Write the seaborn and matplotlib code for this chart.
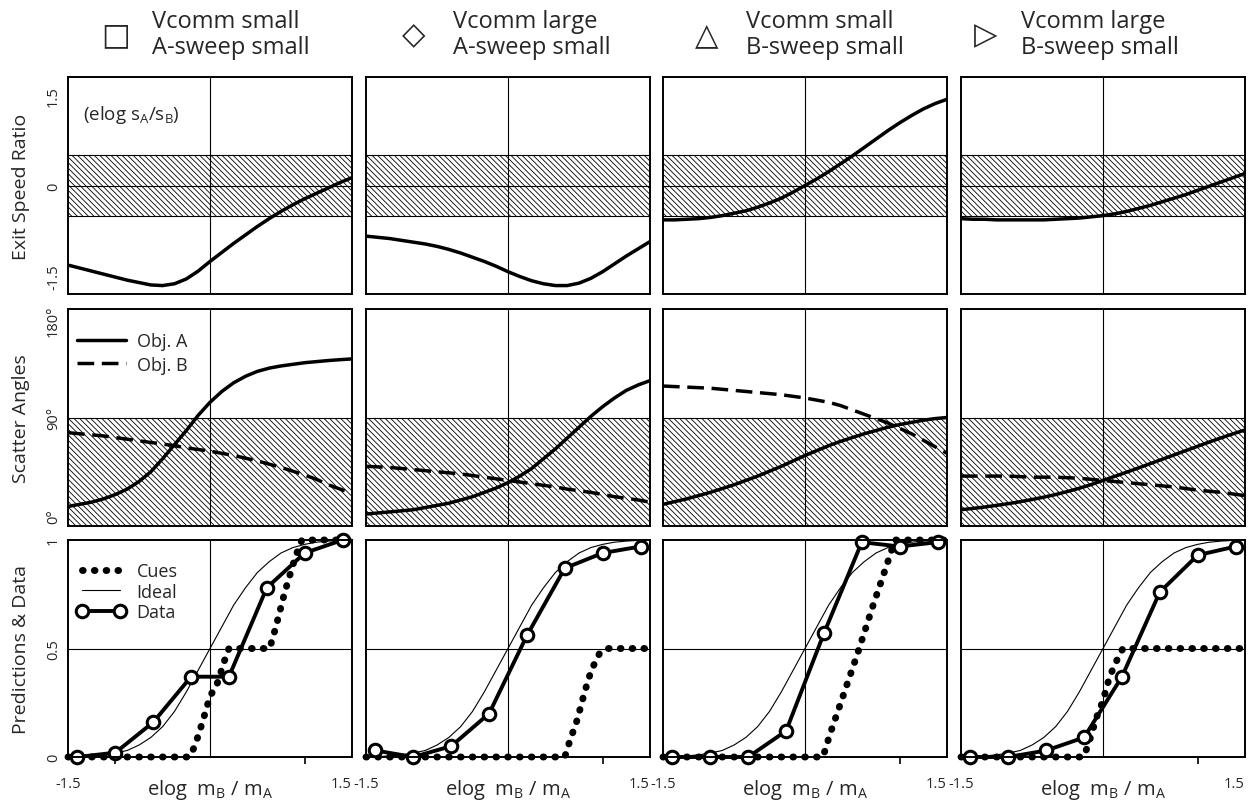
import seaborn as sns
import pandas as pd
import matplotlib.pyplot as plt


# x positions of the read-off curve values (elog mB/mA), step 0.125
x_curve = [-1.5, -1.375, -1.25, -1.125, -1.0, -0.875, -0.75, -0.625, -0.5, -0.375, -0.25, -0.125,
           0.0, 0.125, 0.25, 0.375, 0.5, 0.625, 0.75, 0.875, 1.0, 1.125, 1.25, 1.375, 1.5]

# exit speed ratio (elog sA/sB), one list per column
speed_c1 = [-1.32, -1.37, -1.42, -1.47, -1.52, -1.57, -1.61, -1.65, -1.66, -1.63, -1.55, -1.42,
            -1.26, -1.11, -0.96, -0.82, -0.68, -0.55, -0.43, -0.32, -0.22, -0.13, -0.04, 0.05, 0.13]
speed_c2 = [-0.84, -0.86, -0.88, -0.91, -0.94, -0.97, -1.01, -1.06, -1.12, -1.19, -1.26, -1.34,
            -1.43, -1.51, -1.58, -1.63, -1.66, -1.66, -1.62, -1.54, -1.43, -1.3, -1.17, -1.05, -0.93]
speed_c3 = [-0.57, -0.57, -0.56, -0.55, -0.53, -0.5, -0.46, -0.42, -0.36, -0.29, -0.21, -0.11,
            0.0, 0.11, 0.23, 0.36, 0.49, 0.63, 0.77, 0.91, 1.04, 1.16, 1.27, 1.36, 1.43]
speed_c4 = [-0.55, -0.56, -0.56, -0.57, -0.57, -0.57, -0.57, -0.57, -0.56, -0.55, -0.54, -0.52,
            -0.5, -0.47, -0.43, -0.38, -0.33, -0.27, -0.21, -0.15, -0.08, -0.01, 0.06, 0.13, 0.2]

# scatter angles (degrees), object A and object B
angle_a_c1 = [8, 10, 12, 15, 19, 24, 31, 40, 52, 65, 78, 92,
              104, 114, 122, 128, 132.5, 135.5, 137.5, 139, 140.5, 141.5, 142.5, 143.3, 144]
angle_b_c1 = [76, 75, 74, 73, 71.5, 70, 68.5, 67, 65.5, 64, 62, 60.5,
              59, 57, 55, 52.5, 50, 47, 44, 40.5, 37, 33, 28, 24, 20]
angle_a_c2 = [1, 2, 3, 4, 5, 7, 9, 11, 14, 17, 21, 25,
              30, 36, 43, 52, 61, 71, 81, 91, 100, 108, 115, 120, 124]
angle_b_c2 = [45, 44.5, 44, 43, 42, 41, 40, 39, 38, 36.5, 35, 33.5,
              32, 30.5, 29, 27.5, 26, 24, 22.5, 21, 19, 17, 15.5, 14, 12]
angle_a_c3 = [10, 12.5, 15, 18, 21, 24.5, 28, 32, 36, 40.5, 45, 50,
              55, 59.5, 64, 68, 71.5, 75, 78, 81, 83.5, 85.5, 87.5, 89, 90]
angle_b_c3 = [119, 118.5, 118, 117.5, 117, 116, 115, 114, 113, 112, 111, 109.5,
              108, 106, 104, 101, 97, 93, 89, 85, 80, 75, 69, 63, 57]
angle_a_c4 = [5, 6.2, 7.5, 9, 10.6, 12.4, 14.4, 16.6, 19, 21.8, 24.8, 28.2,
              32, 35.8, 39.6, 43.5, 47.5, 51.5, 55.5, 59.5, 63.5, 67.5, 71.3, 75, 78.5]
angle_b_c4 = [36, 36, 36, 36, 36, 35.5, 35, 35, 35, 34.5, 34, 33,
              32, 31, 30, 29, 28, 27, 26, 24.5, 23, 22, 21, 19.5, 18]

# ideal prediction (same for every column)
ideal = [0.0, 0.002, 0.005, 0.01, 0.018, 0.03, 0.055, 0.09, 0.14, 0.21, 0.3, 0.4,
         0.5, 0.6, 0.7, 0.78, 0.85, 0.9, 0.94, 0.965, 0.98, 0.99, 0.995, 0.998, 1.0]

# observed data
x_data = [-1.4, -1.0, -0.6, -0.2, 0.2, 0.6, 1.0, 1.4]
data_c1 = [0.0, 0.02, 0.16, 0.37, 0.37, 0.78, 0.94, 1.0]
data_c2 = [0.03, 0.0, 0.05, 0.2, 0.56, 0.87, 0.94, 0.97]
data_c3 = [0.0, 0.0, 0.0, 0.12, 0.57, 0.99, 0.97, 0.99]
data_c4 = [0.0, 0.0, 0.03, 0.09, 0.37, 0.76, 0.93, 0.97]

# cue predictions (break points)
cues_x_c1 = [-1.5, -0.22, -0.16, -0.08, 0.0, 0.07, 0.15, 0.2, 0.63, 0.69, 0.79, 0.9, 0.97, 1.5]
cues_y_c1 = [0.0, 0.0, 0.05, 0.16, 0.28, 0.33, 0.44, 0.5, 0.5, 0.59, 0.76, 0.92, 1.0, 1.0]
cues_x_c2 = [-1.5, 0.6, 0.65, 0.73, 0.81, 0.88, 0.97, 1.05, 1.5]
cues_y_c2 = [0.0, 0.0, 0.07, 0.17, 0.3, 0.4, 0.48, 0.5, 0.5]
cues_x_c3 = [-1.5, 0.19, 0.26, 0.37, 0.55, 0.72, 0.86, 0.95, 1.5]
cues_y_c3 = [0.0, 0.0, 0.1, 0.24, 0.47, 0.7, 0.88, 1.0, 1.0]
cues_x_c4 = [-1.5, -0.21, -0.16, -0.07, 0.0, 0.07, 0.14, 0.21, 1.5]
cues_y_c4 = [0.0, 0.0, 0.05, 0.18, 0.26, 0.37, 0.44, 0.5, 0.5]

header_symbols = ["\u25a1", "\u25c7", "\u25b3", "\u25b7"]
header_text = ["Vcomm small\nA-sweep small", "Vcomm large\nA-sweep small",
               "Vcomm small\nB-sweep small", "Vcomm large\nB-sweep small"]
row_labels = ["Exit Speed Ratio", "Scatter Angles", "Predictions & Data"]


def main():
    sns.set_theme(style="white")
    plt.rcParams['font.family'] = ['Open Sans', 'DejaVu Sans']
    plt.rcParams['hatch.color'] = 'black'
    plt.rcParams['hatch.linewidth'] = 0.6

    speeds = [speed_c1, speed_c2, speed_c3, speed_c4]
    angles_a = [angle_a_c1, angle_a_c2, angle_a_c3, angle_a_c4]
    angles_b = [angle_b_c1, angle_b_c2, angle_b_c3, angle_b_c4]
    datas = [data_c1, data_c2, data_c3, data_c4]
    cues = [(cues_x_c1, cues_y_c1), (cues_x_c2, cues_y_c2),
            (cues_x_c3, cues_y_c3), (cues_x_c4, cues_y_c4)]

    fig = plt.figure(figsize=(12.58, 8.04), dpi=100)
    lefts = [68, 366, 663, 961]
    tops = [78, 310, 541]
    W, H = 284, 217
    axes = [[fig.add_axes([l / 1258, 1 - (t + H) / 804, W / 1258, H / 804])
             for l in lefts] for t in tops]

    hatch = '\\' * 6
    dash_b = (0, (4.8, 2.2))
    for c in range(4):
        # row 1: exit speed ratio
        ax = axes[0][c]
        ax.axhspan(-0.5, 0.5, facecolor='none', edgecolor='black', hatch=hatch, lw=0)
        for yv in (-0.5, 0.0, 0.5):
            ax.axhline(yv, color='black', lw=0.8)
        ax.axvline(0, color='black', lw=0.8)
        df = pd.DataFrame({"x": x_curve, "y": speeds[c]})
        sns.lineplot(data=df, x="x", y="y", ax=ax, color='black', lw=2.5, sort=False)
        ax.set_ylim(-1.8, 1.8)

        # row 2: scatter angles
        ax = axes[1][c]
        ax.axhspan(-10, 90, facecolor='none', edgecolor='black', hatch=hatch, lw=0)
        ax.axhline(90, color='black', lw=0.8)
        ax.axvline(0, color='black', lw=0.8)
        df = pd.DataFrame({"x": x_curve, "a": angles_a[c], "b": angles_b[c]})
        sns.lineplot(data=df, x="x", y="a", ax=ax, color='black', lw=2.5,
                     sort=False, label="Obj. A")
        sns.lineplot(data=df, x="x", y="b", ax=ax, color='black', lw=2.5,
                     linestyle=dash_b, sort=False, label="Obj. B")
        ax.set_ylim(-10, 190)

        # row 3: predictions & data
        ax = axes[2][c]
        ax.axhline(0.5, color='black', lw=0.8)
        ax.axvline(0, color='black', lw=0.8)
        cx, cy = cues[c]
        sns.lineplot(x=cx, y=cy, ax=ax, color='black', lw=5.0,
                     linestyle=(0, (0.1, 1.6)), dash_capstyle='round',
                     sort=False, label="Cues", clip_on=False)
        sns.lineplot(x=x_curve, y=ideal, ax=ax, color='black', lw=0.8,
                     sort=False, label="Ideal")
        sns.lineplot(x=x_data, y=datas[c], ax=ax, color='black', lw=2.8,
                     marker='o', markersize=9, markerfacecolor='white',
                     markeredgecolor='black', markeredgewidth=2.2,
                     sort=False, label="Data", clip_on=False)
        ax.set_ylim(0, 1)

    for r in range(3):
        for c in range(4):
            ax = axes[r][c]
            ax.set_xlim(-1.5, 1.5)
            ax.set_xlabel("")
            ax.set_ylabel("")
            for s in ax.spines.values():
                s.set_color('black')
                s.set_linewidth(1.4)
            ax.tick_params(axis='y', length=0, pad=5, labelsize=10.5)
            if ax.get_legend() is not None:
                ax.get_legend().remove()
            if c > 0:
                ax.set_yticks([])
            if r < 2:
                ax.set_xticks([])

    axes[0][0].set_yticks([-1.5, 0, 1.5], ["-1.5", "0", "1.5"], rotation=90, va='center')
    axes[1][0].set_yticks([0, 90, 180], ["0\u00b0", "90\u00b0", "180\u00b0"],
                          rotation=90, va='center')
    axes[2][0].set_yticks([0, 0.5, 1], ["0", "0.5", "1"], rotation=90, va='center')

    for r in range(3):
        axes[r][0].set_ylabel(row_labels[r], fontsize=14)
        axes[r][0].yaxis.set_label_coords(-0.135, 0.5)

    for c in range(4):
        ax = axes[2][c]
        ax.set_xticks([-1.5, 1.5], ["-1.5", "1.5"])
        ax.set_xticks([-1, 1], minor=True)
        ax.tick_params(axis='x', which='major', length=0, pad=14, labelsize=10.5)
        ax.tick_params(axis='x', which='minor', length=5, width=1.2,
                       direction='out', bottom=True, color='black')
        ax.get_xticklabels()[1].set_ha('right')
        ax.set_xlabel("elog  $\\mathregular{m_B}$ / $\\mathregular{m_A}$", fontsize=14.5)
        ax.xaxis.set_label_coords(0.5, -0.09)

    axes[0][0].text(0.053, 0.83, "(elog $\\mathregular{s_A/s_B}$)",
                    transform=axes[0][0].transAxes, fontsize=13.5, va='center', ha='left')
    axes[1][0].legend(loc='upper left', bbox_to_anchor=(0.0, 0.935), frameon=False,
                      fontsize=13, handlelength=2.7, borderaxespad=0.2, borderpad=0.3,
                      labelspacing=0.3, handletextpad=0.6)
    axes[2][0].legend(loc='upper left', bbox_to_anchor=(0.0, 0.94), frameon=False,
                      fontsize=13, handlelength=2.7, borderaxespad=0.2, borderpad=0.3,
                      labelspacing=0.15, handletextpad=0.6, numpoints=2)

    sym_x = [116, 414, 707, 986]
    txt_x = [152, 453, 746, 1021]
    for c in range(4):
        fig.text(sym_x[c] / 1258, 1 - 36 / 804, header_symbols[c], fontsize=22,
                 ha='center', va='center', family=['DejaVu Sans'])
        fig.text(txt_x[c] / 1258, 1 - 35 / 804, header_text[c], fontsize=17,
                 ha='left', va='center', linespacing=1.15)

    fig.savefig("out.png", dpi=100)


if __name__ == "__main__":
    main()
